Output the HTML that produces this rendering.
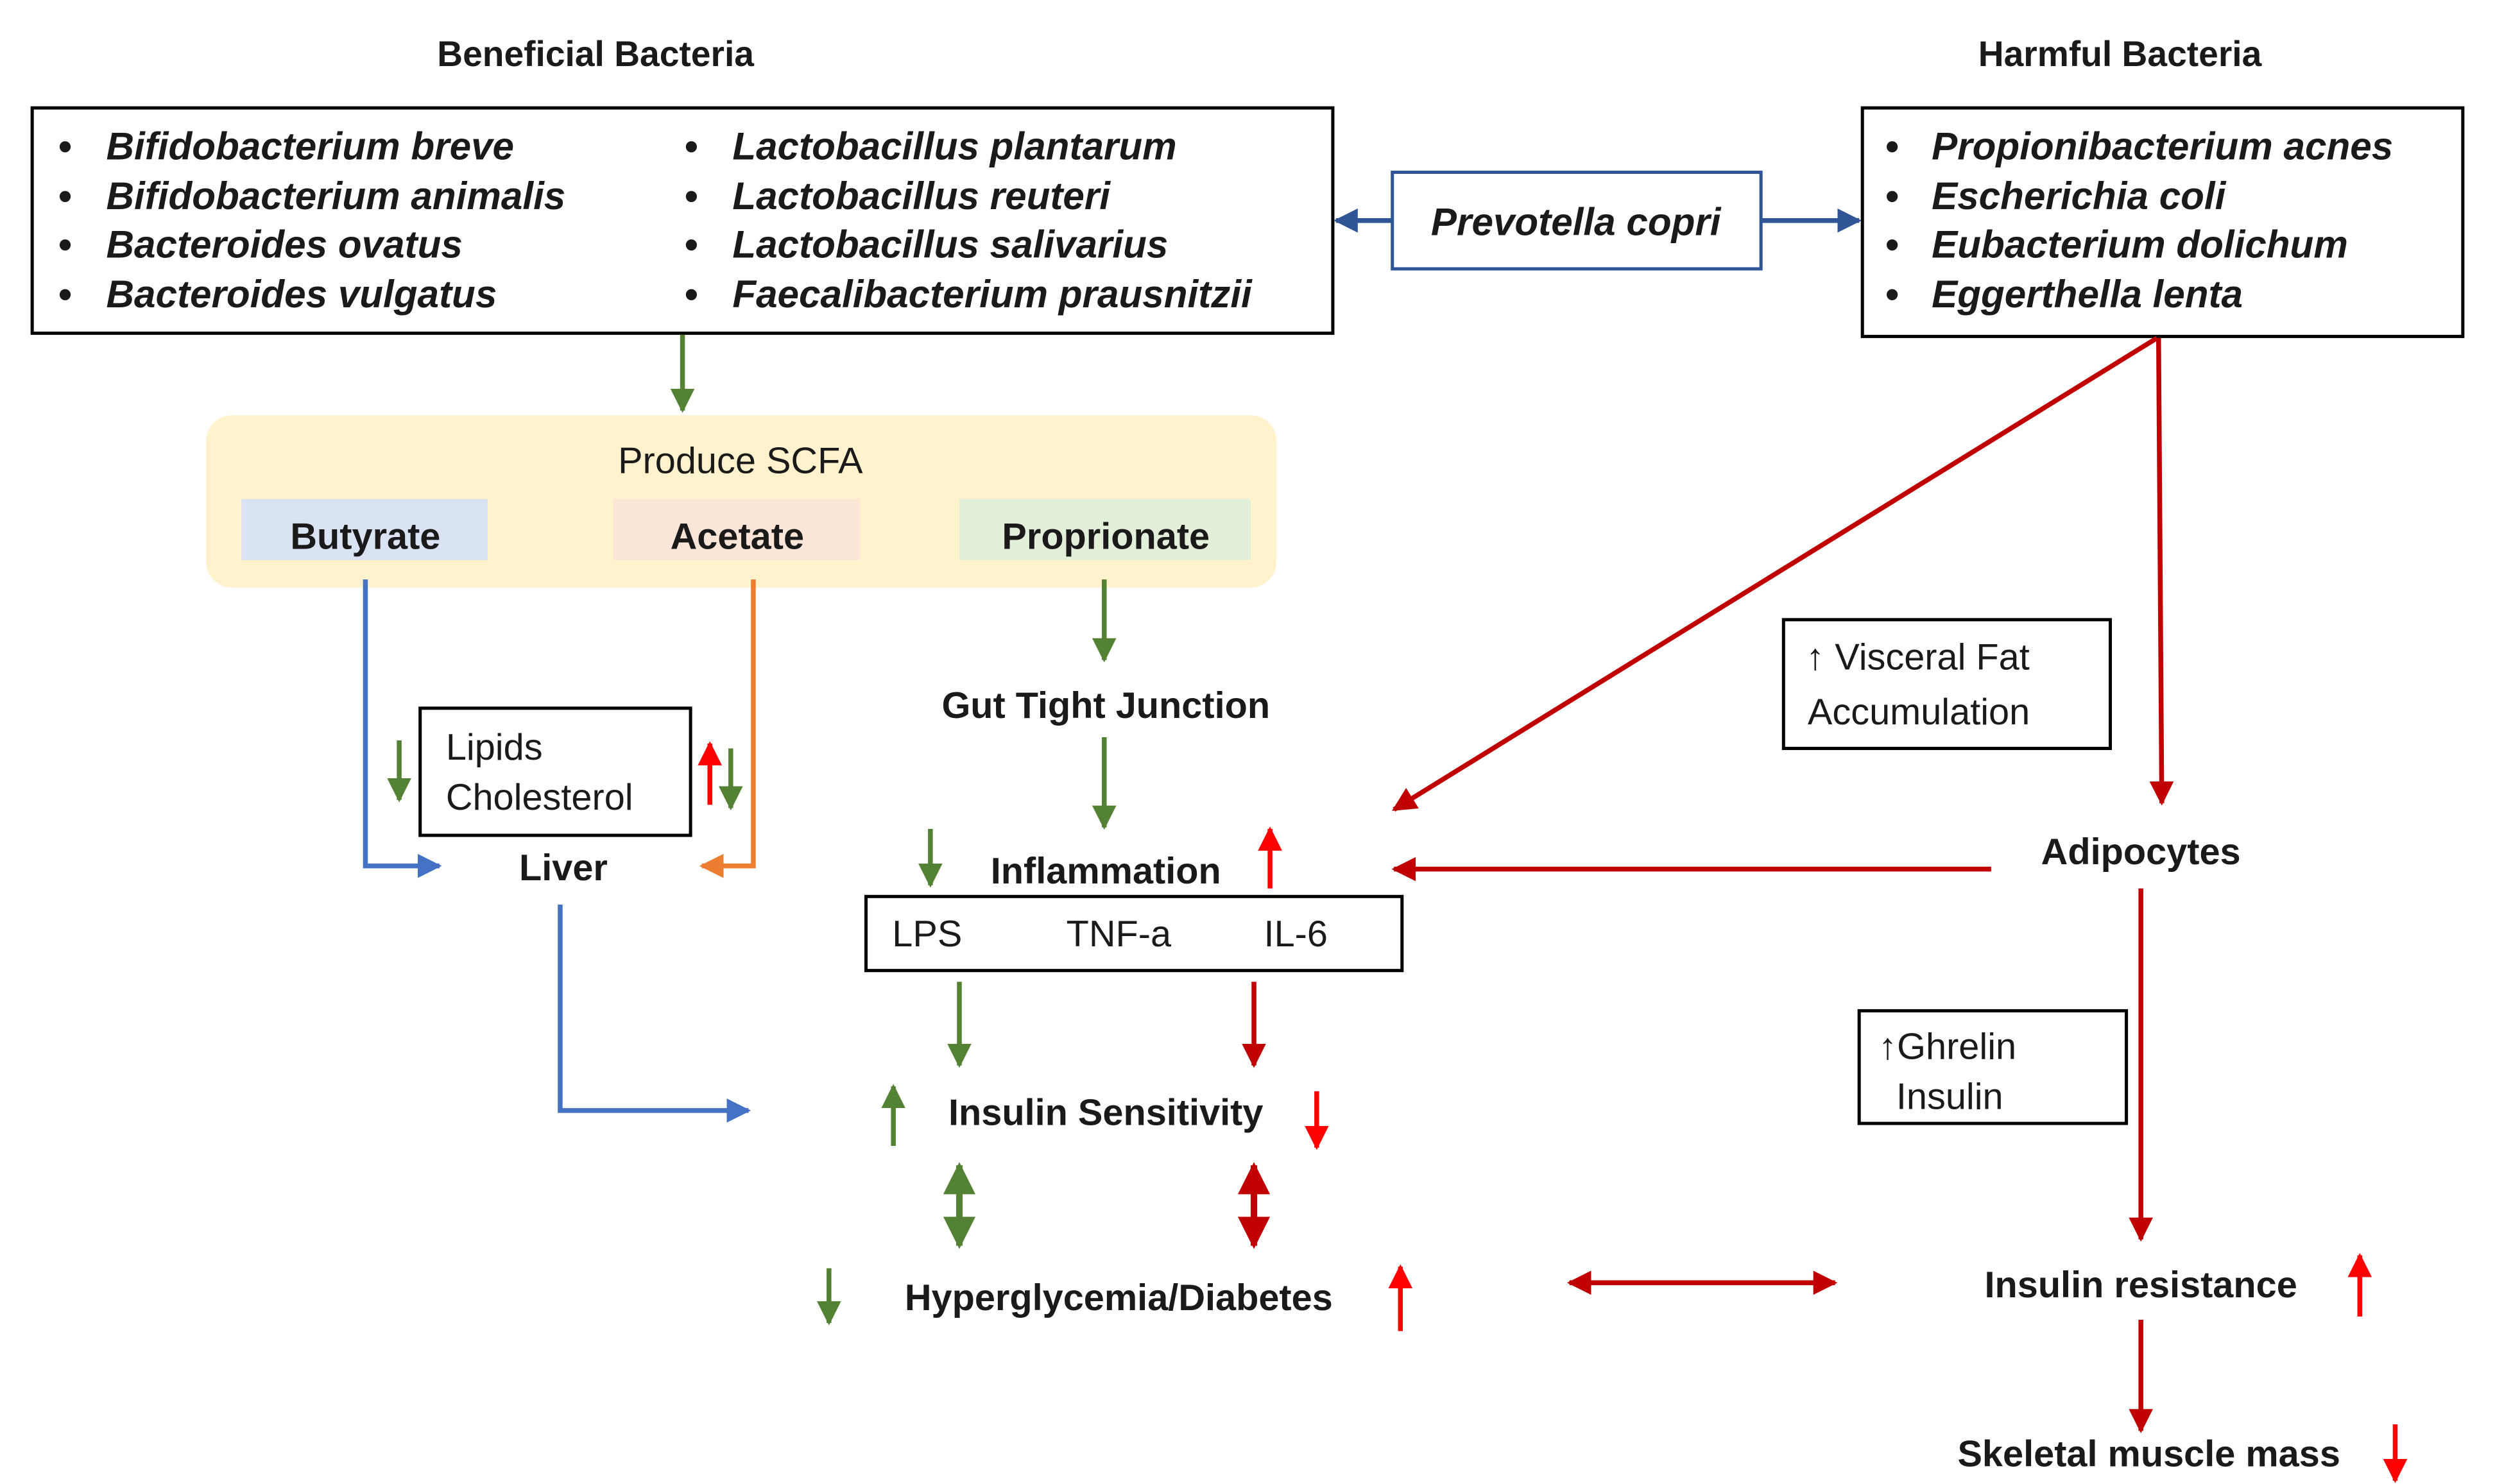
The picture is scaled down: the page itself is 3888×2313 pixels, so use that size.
<!DOCTYPE html>
<html><head><meta charset="utf-8"><style>
html,body{margin:0;padding:0;background:#fff;}
svg{display:block;}
text{font-family:"Liberation Sans",Arial,sans-serif;fill:#1a1a1a;}
.t{font-weight:bold;font-size:22px;}
.b{font-weight:bold;font-style:italic;font-size:24px;}
.r{font-size:23px;}
</style></head><body>
<svg width="3888" height="2313" viewBox="0 0 1550 922" xmlns="http://www.w3.org/2000/svg">
<defs>
<marker id="ag" viewBox="0 0 10 10" refX="9" refY="5" markerWidth="5" markerHeight="5" orient="auto-start-reverse"><path d="M0,0L10,5L0,10z" fill="#548235"/></marker>
<marker id="ar" viewBox="0 0 10 10" refX="9" refY="5" markerWidth="5" markerHeight="5" orient="auto-start-reverse"><path d="M0,0L10,5L0,10z" fill="#c00000"/></marker>
<marker id="aR" viewBox="0 0 10 10" refX="9" refY="5" markerWidth="5" markerHeight="5" orient="auto-start-reverse"><path d="M0,0L10,5L0,10z" fill="#ff0000"/></marker>
<marker id="ab" viewBox="0 0 10 10" refX="9" refY="5" markerWidth="5" markerHeight="5" orient="auto-start-reverse"><path d="M0,0L10,5L0,10z" fill="#4472c4"/></marker>
<marker id="ad" viewBox="0 0 10 10" refX="9" refY="5" markerWidth="5" markerHeight="5" orient="auto-start-reverse"><path d="M0,0L10,5L0,10z" fill="#2f5597"/></marker>
<marker id="ao" viewBox="0 0 10 10" refX="9" refY="5" markerWidth="5" markerHeight="5" orient="auto-start-reverse"><path d="M0,0L10,5L0,10z" fill="#ed7d31"/></marker>
</defs>

<text class="t" x="370" y="41" text-anchor="middle">Beneficial Bacteria</text>
<text class="t" x="1317" y="41" text-anchor="middle">Harmful Bacteria</text>

<rect x="20" y="67" width="808" height="140" fill="none" stroke="#000" stroke-width="2"/>
<g class="b">
<text class="b" x="36" y="99">•</text><text class="b" x="66" y="99">Bifidobacterium breve</text>
<text class="b" x="36" y="130">•</text><text class="b" x="66" y="130">Bifidobacterium animalis</text>
<text class="b" x="36" y="160">•</text><text class="b" x="66" y="160">Bacteroides ovatus</text>
<text class="b" x="36" y="191">•</text><text class="b" x="66" y="191">Bacteroides vulgatus</text>
<text class="b" x="425" y="99">•</text><text class="b" x="455" y="99">Lactobacillus plantarum</text>
<text class="b" x="425" y="130">•</text><text class="b" x="455" y="130">Lactobacillus reuteri</text>
<text class="b" x="425" y="160">•</text><text class="b" x="455" y="160">Lactobacillus salivarius</text>
<text class="b" x="425" y="191">•</text><text class="b" x="455" y="191">Faecalibacterium prausnitzii</text>
</g>

<rect x="865" y="107" width="229" height="60" fill="none" stroke="#2f5597" stroke-width="2"/>
<text class="b" x="979" y="146" text-anchor="middle">Prevotella copri</text>
<line x1="865" y1="137" x2="830" y2="137" stroke="#2f5597" stroke-width="3" marker-end="url(#ad)"/>
<line x1="1094" y1="137" x2="1155" y2="137" stroke="#2f5597" stroke-width="3" marker-end="url(#ad)"/>

<rect x="1157" y="67" width="373" height="142" fill="none" stroke="#000" stroke-width="2"/>
<text class="b" x="1171" y="99">•</text><text class="b" x="1200" y="99">Propionibacterium acnes</text>
<text class="b" x="1171" y="130">•</text><text class="b" x="1200" y="130">Escherichia coli</text>
<text class="b" x="1171" y="160">•</text><text class="b" x="1200" y="160">Eubacterium dolichum</text>
<text class="b" x="1171" y="191">•</text><text class="b" x="1200" y="191">Eggerthella lenta</text>

<line x1="424" y1="208" x2="424" y2="255" stroke="#548235" stroke-width="3" marker-end="url(#ag)"/>

<rect x="128" y="258" width="665" height="107" rx="16" fill="#fff2cc"/>
<text class="r" x="460" y="294" text-anchor="middle">Produce SCFA</text>
<rect x="150" y="310" width="153" height="38" fill="#dae3f3"/>
<text class="t" x="227" y="341" text-anchor="middle" style="font-size:23px">Butyrate</text>
<rect x="381" y="310" width="153" height="38" fill="#fbe5d6"/>
<text class="t" x="458" y="341" text-anchor="middle" style="font-size:23px">Acetate</text>
<rect x="596" y="310" width="181" height="38" fill="#e2f0d9"/>
<text class="t" x="687" y="341" text-anchor="middle" style="font-size:23px">Proprionate</text>

<polyline points="227,360 227,538 273,538" fill="none" stroke="#4472c4" stroke-width="3" marker-end="url(#ab)"/>
<polyline points="468,360 468,538 436,538" fill="none" stroke="#ed7d31" stroke-width="3" marker-end="url(#ao)"/>

<rect x="261" y="440" width="168" height="79" fill="none" stroke="#000" stroke-width="2"/>
<text class="r" x="277" y="472">Lipids</text>
<text class="r" x="277" y="503">Cholesterol</text>
<line x1="248" y1="460" x2="248" y2="497" stroke="#548235" stroke-width="3" marker-end="url(#ag)"/>
<line x1="441" y1="500" x2="441" y2="462" stroke="#ff0000" stroke-width="3" marker-end="url(#aR)"/>
<line x1="454" y1="465" x2="454" y2="502" stroke="#548235" stroke-width="3" marker-end="url(#ag)"/>
<text class="t" x="350" y="547" text-anchor="middle" style="font-size:23px">Liver</text>
<polyline points="348,562 348,690 465,690" fill="none" stroke="#4472c4" stroke-width="3" marker-end="url(#ab)"/>

<line x1="686" y1="360" x2="686" y2="410" stroke="#548235" stroke-width="3" marker-end="url(#ag)"/>
<text class="t" x="687" y="446" text-anchor="middle" style="font-size:23px">Gut Tight Junction</text>
<line x1="686" y1="458" x2="686" y2="514" stroke="#548235" stroke-width="3" marker-end="url(#ag)"/>
<text class="t" x="687" y="549" text-anchor="middle" style="font-size:23px">Inflammation</text>
<line x1="578" y1="515" x2="578" y2="550" stroke="#548235" stroke-width="3" marker-end="url(#ag)"/>
<line x1="789" y1="552" x2="789" y2="515" stroke="#ff0000" stroke-width="3" marker-end="url(#aR)"/>

<rect x="538" y="557" width="333" height="46" fill="none" stroke="#000" stroke-width="2"/>
<text class="r" x="576" y="588" text-anchor="middle">LPS</text>
<text class="r" x="695" y="588" text-anchor="middle">TNF-a</text>
<text class="r" x="805" y="588" text-anchor="middle">IL-6</text>

<line x1="596" y1="610" x2="596" y2="662" stroke="#548235" stroke-width="3" marker-end="url(#ag)"/>
<line x1="779" y1="610" x2="779" y2="662" stroke="#c00000" stroke-width="3" marker-end="url(#ar)"/>

<text class="t" x="687" y="699" text-anchor="middle" style="font-size:23px">Insulin  Sensitivity</text>
<line x1="555" y1="712" x2="555" y2="675" stroke="#548235" stroke-width="3" marker-end="url(#ag)"/>
<line x1="818" y1="678" x2="818" y2="713" stroke="#ff0000" stroke-width="3" marker-end="url(#aR)"/>

<line x1="596" y1="724" x2="596" y2="774" stroke="#548235" stroke-width="4" marker-start="url(#ag)" marker-end="url(#ag)"/>
<line x1="779" y1="724" x2="779" y2="774" stroke="#c00000" stroke-width="4" marker-start="url(#ar)" marker-end="url(#ar)"/>

<text class="t" x="695" y="814" text-anchor="middle" style="font-size:23px">Hyperglycemia/Diabetes</text>
<line x1="515" y1="788" x2="515" y2="822" stroke="#548235" stroke-width="3" marker-end="url(#ag)"/>
<line x1="870" y1="827" x2="870" y2="787" stroke="#ff0000" stroke-width="3" marker-end="url(#aR)"/>

<line x1="975" y1="797" x2="1140" y2="797" stroke="#c00000" stroke-width="3" marker-start="url(#ar)" marker-end="url(#ar)"/>

<line x1="1340" y1="210" x2="866" y2="503" stroke="#c00000" stroke-width="3" marker-end="url(#ar)"/>
<line x1="1341" y1="210" x2="1343" y2="499" stroke="#c00000" stroke-width="3" marker-end="url(#ar)"/>

<rect x="1108" y="385" width="203" height="80" fill="none" stroke="#000" stroke-width="2"/>
<text class="r" x="1122" y="416">↑ Visceral Fat</text>
<text class="r" x="1123" y="450">Accumulation</text>

<text class="t" x="1330" y="537" text-anchor="middle" style="font-size:23px">Adipocytes</text>
<line x1="1237" y1="540" x2="866" y2="540" stroke="#c00000" stroke-width="3" marker-end="url(#ar)"/>
<line x1="1330" y1="552" x2="1330" y2="770" stroke="#c00000" stroke-width="3" marker-end="url(#ar)"/>

<rect x="1155" y="628" width="166" height="70" fill="none" stroke="#000" stroke-width="2"/>
<text class="r" x="1167" y="658">↑Ghrelin</text>
<text class="r" x="1178" y="689">Insulin</text>

<text class="t" x="1330" y="806" text-anchor="middle" style="font-size:23px">Insulin resistance</text>
<line x1="1466" y1="818" x2="1466" y2="780" stroke="#ff0000" stroke-width="3" marker-end="url(#aR)"/>
<line x1="1330" y1="820" x2="1330" y2="889" stroke="#c00000" stroke-width="3" marker-end="url(#ar)"/>
<text class="t" x="1335" y="911" text-anchor="middle" style="font-size:23px">Skeletal muscle mass</text>
<line x1="1488" y1="885" x2="1488" y2="920" stroke="#ff0000" stroke-width="3" marker-end="url(#aR)"/>
</svg>
</body></html>
